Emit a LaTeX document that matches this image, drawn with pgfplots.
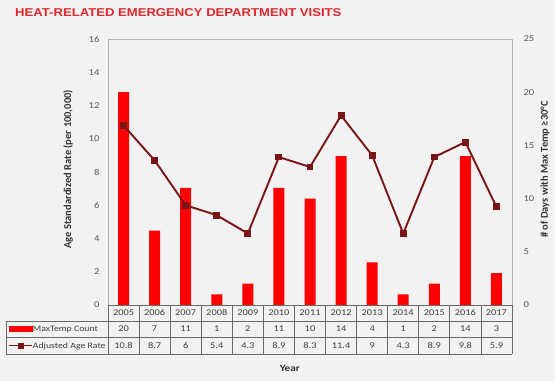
\documentclass[border=0pt]{standalone}
\usepackage{pgfplots}
\pgfplotsset{compat=1.18}
\usepackage{pgfplotstable}
\usepackage{fontspec}
\setmainfont[FakeStretch=1.18]{Carlito}
\newfontfamily\rotfont{Carlito}
\newfontfamily\titlefont[FakeStretch=1.15]{Liberation Sans}
\definecolor{bg}{HTML}{F2F2F2}
\definecolor{barred}{HTML}{FF0000}
\definecolor{linered}{HTML}{7A1416}
\definecolor{tickgray}{HTML}{595959}
\definecolor{titlered}{HTML}{E0282C}
\definecolor{gridgray}{HTML}{6A6A6A}
\definecolor{boxgray}{HTML}{B4B4B4}

\pgfplotstableread{
x year count rate
0 2005 20 10.8
1 2006 7 8.7
2 2007 11 6
3 2008 1 5.4
4 2009 2 4.3
5 2010 11 8.9
6 2011 10 8.3
7 2012 14 11.4
8 2013 4 9
9 2014 1 4.3
10 2015 2 8.9
11 2016 14 9.8
12 2017 3 5.9
}\data

\begin{document}
\begin{tikzpicture}
\fill[bg] (0,0) rectangle (555pt,381pt);
\useasboundingbox (0,0) rectangle (555pt,381pt);
\node[anchor=west, text=titlered, font=\titlefont\bfseries\fontsize{11.4}{13}\selectfont, inner sep=0pt] at (15pt,368.5pt) {HEAT-RELATED EMERGENCY DEPARTMENT VISITS};

% bars on right axis
\begin{axis}[
  at={(108pt,76pt)}, anchor=south west,
  width=404pt, height=266pt, scale only axis,
  xmin=-0.5, xmax=12.5, ymin=0, ymax=25,
  axis x line=none,
  axis y line*=right,
  axis line style={draw=none},
  ytick={0,5,...,25},
  major tick length=0pt,
  /pgf/number format/assume math mode=true,
  yticklabel style={font=\fontsize{9}{10}\selectfont, text=tickgray, xshift=8pt},
  ylabel={\rotfont\bfseries\fontsize{10.5}{12}\selectfont \# of Days with Max Temp ≥30°C},
  ylabel style={at={(axis description cs:1.0817,0.51)}, anchor=center, text=black!80},
]
\addplot[ybar, bar width=11pt, fill=barred, draw=none, forget plot] table[x=x, y=count] {\data};
\end{axis}

% line on left axis + table
\begin{axis}[
  at={(108pt,76pt)}, anchor=south west,
  width=404pt, height=266pt, scale only axis,
  xmin=-0.5, xmax=12.5, ymin=0, ymax=16,
  clip=false,
  axis line style={boxgray},
  ytick={0,2,...,16}, ytick pos=left,
  xtick={0,...,12},
  xticklabels from table={\data}{year},
  major tick length=0pt,
  /pgf/number format/assume math mode=true,
  yticklabel style={font=\fontsize{9}{10}\selectfont, text=tickgray, xshift=-5pt},
  xticklabel style={font=\fontsize{8.8}{10}\selectfont, text=tickgray!70!black, anchor=center, yshift=-8pt},
  ylabel={\rotfont\bfseries\fontsize{10.5}{12}\selectfont Age Standardized Rate (per 100,000)},
  ylabel style={at={(axis description cs:-0.099,0.51)}, anchor=center, text=black!80},
  xlabel={\bfseries\fontsize{9.5}{11}\selectfont Year},
  xlabel style={at={(axis description cs:0.45,-0.237)}, anchor=center, text=black!80},
  legend style={at={(axis description cs:-0.2475,-0.0602)}, anchor=north west, draw=none, fill=none,
    inner sep=0pt, outer sep=0pt, row sep=0pt,
    font=\fontsize{8.3}{10}\selectfont, text=tickgray!70!black,
    nodes={inner sep=0pt, minimum height=16.3pt, text depth=0pt}},
  legend cell align=left,
]
\addplot[linered, line width=1.9pt, mark=square*, mark size=2.5pt, mark options={solid, fill=linered}, forget plot] table[x=x, y=rate] {\data};

\addplot[draw=none, mark=none, forget plot, point meta=explicit symbolic, nodes near coords,
  every node near coord/.append style={anchor=center, yshift=-24pt, font=\fontsize{8.8}{10}\selectfont, text=tickgray!70!black}]
  table[x=x, y expr=0, meta=count] {\data};
\addplot[draw=none, mark=none, forget plot, point meta=explicit symbolic, nodes near coords,
  every node near coord/.append style={anchor=center, yshift=-40.5pt, font=\fontsize{8.8}{10}\selectfont, text=tickgray!70!black}]
  table[x=x, y expr=0, meta=rate] {\data};

\addlegendimage{legend image code/.code={\fill[barred] (0pt,-2.5pt) rectangle (23pt,2.5pt);}}
\addlegendentry{MaxTemp Count}
\addlegendimage{legend image code/.code={\draw[linered, line width=1.9pt] (0pt,0pt) -- (23pt,0pt); \fill[linered] (9pt,-2.6pt) rectangle (14.2pt,2.6pt);}}
\addlegendentry{Adjusted Age Rate}

% table grid
\pgfplotsinvokeforeach{-0.5,0.5,...,12.5}{
  \draw[gridgray, line width=0.8pt] (axis cs:#1,0) -- ++(0pt,-49pt);
}
\draw[gridgray, line width=0.8pt] (rel axis cs:0,0) -- (rel axis cs:1,0);
\draw[gridgray, line width=0.8pt] ([xshift=-102pt,yshift=-16pt]rel axis cs:0,0) -- ([yshift=-16pt]rel axis cs:1,0);
\draw[gridgray, line width=0.8pt] ([xshift=-102pt,yshift=-32pt]rel axis cs:0,0) -- ([yshift=-32pt]rel axis cs:1,0);
\draw[gridgray, line width=0.8pt] ([xshift=-102pt,yshift=-49pt]rel axis cs:0,0) -- ([yshift=-49pt]rel axis cs:1,0);
\draw[gridgray, line width=0.8pt] ([xshift=-102pt,yshift=-16pt]rel axis cs:0,0) -- ([xshift=-102pt,yshift=-49pt]rel axis cs:0,0);
\end{axis}
\end{tikzpicture}
\end{document}
